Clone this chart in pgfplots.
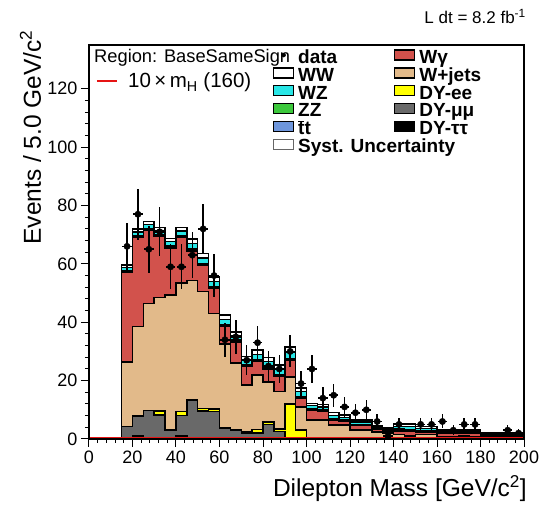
\documentclass[border=0pt]{standalone}
\usepackage{pgfplots}
\pgfplotsset{compat=1.18}
\usepackage{pgfplotstable}
\usepackage{fontspec}
\setmainfont{Liberation Sans}

\definecolor{cWg}{RGB}{210,82,76}
\definecolor{cWj}{RGB}{226,186,138}
\definecolor{cEE}{RGB}{255,255,0}
\definecolor{cMM}{RGB}{105,105,105}
\definecolor{cTT}{RGB}{0,0,0}
\definecolor{cWZ}{RGB}{40,230,230}
\definecolor{cZZ}{RGB}{60,200,60}
\definecolor{ctt}{RGB}{110,150,220}
\definecolor{cSig}{RGB}{230,20,20}

% cumulative stack tops per 5 GeV bin (left edge)
% c1 DY-tautau, c2 +DY-mumu, c3 +DY-ee, c4 +W+jets, c5 +Wgamma, c6 +ttbar, c7 +ZZ, c8 +WZ, c9 +WW
\pgfplotstableread{
x   c1  c2   c3   c4   c5   c6   c7   c8   c9
15  0   4.2  4.2  26.3 57.0 57.3 57.6 58.7 59.6
20  1.2 7.9  7.9  38.5 69.0 69.3 69.6 71.0 72.0
25  0   9.7  9.7  46.5 71.5 71.8 72.1 73.5 74.5
30  0   8.2  9.6  48.5 69.5 69.8 70.1 71.5 72.5
35  0   3.1  3.1  49.3 65.5 65.8 66.1 67.6 68.7
40  1.2 8.0  9.4  53.5 69.2 69.5 69.8 71.3 72.4
45  0   13.4 13.4 54.3 64.5 64.8 65.1 67.0 68.5
50  0   9.6  10.5 50.5 59.5 59.8 60.1 62.0 63.6
55  0   9.5  10.3 43.0 51.5 51.8 52.1 54.0 55.5
60  0   3.7  3.7  32.5 38.5 38.8 39.1 41.0 42.5
65  0   3.1  3.1  26.0 33.3 33.6 33.9 35.4 36.7
70  0   2.0  2.5  18.5 25.0 25.3 25.6 27.0 28.2
75  0   2.0  3.3  22.0 26.5 26.8 27.1 29.0 30.5
80  0   5.0  5.9  19.5 24.0 24.3 24.6 26.6 28.0
85  0   2.5  3.5  16.2 21.5 21.8 22.1 24.0 25.3
90  0   0.5  12.0 21.3 27.0 27.3 27.6 29.8 31.6
95  0   0.3  3.1  11.0 14.0 14.3 14.6 16.2 17.4
100 0   0.1  0.3  6.5  10.0 10.2 10.4 11.4 12.2
105 0   0.1  0.3  6.5  9.5  9.7  9.9  11.0 11.8
110 0   0.1  0.2  4.8  6.5  6.7  6.9  8.0  9.0
115 0   0.1  0.2  4.8  6.2  6.4  6.6  7.4  8.2
120 0   0.1  0.2  3.1  4.6  4.8  5.0  5.8  6.5
125 0   0.1  0.2  3.1  4.6  4.8  5.0  5.8  6.5
130 0   0    0.1  2.4  3.3  3.4  3.5  4.0  4.5
135 0   0    0.1  2.0  2.7  2.8  2.9  3.3  3.7
140 0   0    0.1  1.6  2.6  3.0  3.4  4.3  5.2
145 0   0    0.1  1.0  2.5  2.9  3.3  4.3  5.2
150 0   0    0.1  1.5  2.3  2.6  2.9  3.6  4.2
155 0   0    0.1  1.5  2.3  2.6  2.9  3.6  4.2
160 0   0    0    0.6  1.8  2.0  2.2  2.7  3.1
165 0   0    0    0.6  1.8  2.0  2.2  2.7  3.1
170 0   0    0    1.0  1.8  2.0  2.2  2.7  3.1
175 0   0    0    0.6  1.8  2.0  2.2  2.7  3.1
180 0   0    0    0.3  1.0  1.2  1.4  1.7  2.0
185 0   0    0    0.3  1.0  1.2  1.4  1.7  2.0
190 0   0    0    0.3  1.0  1.2  1.4  1.7  2.0
195 0   0    0    0.3  1.0  1.2  1.4  1.7  2.0
200 0   0    0    0.3  1.0  1.2  1.4  1.7  2.0
}\stack

\pgfplotstableread{
x     y   ex  ey
17.5  66  2.2 8.1
22.5  77  2.2 8.8
27.5  65  2.2 8.1
32.5  71  2.2 8.4
37.5  59  2.2 7.7
42.5  59  2.2 7.7
47.5  63  2.2 7.9
52.5  72  2.2 8.5
57.5  56  2.2 7.5
62.5  34  2.2 5.8
67.5  35  2.2 5.9
72.5  27  2.2 5.2
77.5  33  2.2 5.7
82.5  25  2.2 5.0
87.5  24  2.2 4.9
92.5  30  2.2 5.5
97.5  19  2.2 4.4
102.5 24  2.2 4.9
107.5 14  2.2 3.7
112.5 15  2.2 3.9
117.5 11  2.2 3.3
122.5 9   2.2 3.0
127.5 10  2.2 3.2
132.5 6   2.2 2.4
137.5 1   2.2 1.0
142.5 5   2.2 2.2
152.5 5   2.2 2.2
157.5 5   2.2 2.2
162.5 6   2.2 2.4
167.5 3   2.2 1.7
172.5 5   2.2 2.2
177.5 5   2.2 2.2
192.5 3   2.2 1.7
197.5 2   2.2 1.4
}\data

\pgfplotsset{
  hst/.style={const plot mark left, draw=black, line width=1.5pt, forget plot},
  boxleg/.style={legend image code/.code={\draw[##1, line width=1.2pt] (0pt,-1pt) rectangle (20pt,9pt);}},
}

\begin{document}
\begin{tikzpicture}
\begin{axis}[
  name=ax, at={(0,0)}, anchor=south west,
  scale only axis, width=435pt, height=394pt,
  xmin=0, xmax=200, ymin=0, ymax=135,
  xtick={0,20,...,200}, ytick={0,20,...,120},
  minor x tick num=4, minor y tick num=4,
  tick align=outside, tick pos=left,
  major tick length=8pt, minor tick length=4pt,
  axis line style={line width=1.5pt},
  every tick/.style={line width=1pt, black},
  ticklabel style={font=\fontsize{18}{18}\selectfont},
  /pgf/number format/assume math mode=true,
  axis on top,
  legend columns=6, transpose legend,
  legend cell align=left,
  legend style={draw=none, fill=none, at={(0.423,0.9886)}, anchor=north west,
    inner sep=0pt, outer sep=0pt, row sep=0pt,
    font=\bfseries\fontsize{19}{19}\selectfont,
    nodes={inner sep=0pt, text height=12.5pt, text depth=4pt},
    /tikz/every odd column/.style={column sep=4pt},
    /tikz/every even column/.style={column sep=0pt}},
]
\addplot[hst, fill=white] table[x=x,y=c9]{\stack} \closedcycle;
\addplot[hst, fill=cWZ] table[x=x,y=c8]{\stack} \closedcycle;
\addplot[hst, fill=cZZ] table[x=x,y=c7]{\stack} \closedcycle;
\addplot[hst, fill=ctt] table[x=x,y=c6]{\stack} \closedcycle;
\addplot[hst, fill=cWg] table[x=x,y=c5]{\stack} \closedcycle;
\addplot[hst, fill=cWj] table[x=x,y=c4]{\stack} \closedcycle;
\addplot[hst, fill=cEE] table[x=x,y=c3]{\stack} \closedcycle;
\addplot[hst, fill=cMM] table[x=x,y=c2]{\stack} \closedcycle;
\addplot[hst, fill=cTT] table[x=x,y=c1]{\stack} \closedcycle;
\addplot[const plot, cSig, line width=2pt, forget plot] coordinates {(0,0.5) (200,0.5)};
\addplot[only marks, mark=*, mark size=3.2pt, black, forget plot,
  error bars/.cd, x dir=both, x explicit, y dir=both, y explicit,
  error mark=none, error bar style={line width=1.6pt, black}]
  table[x=x, y=y, x error=ex, y error=ey]{\data};

\addlegendimage{legend image code/.code={\fill[black] (10pt,4pt) circle (2pt);}}
\addlegendentry{\makebox[96pt][l]{data}}
\addlegendimage{boxleg, fill=white, draw=black}
\addlegendentry{\makebox[96pt][l]{WW}}
\addlegendimage{boxleg, fill=cWZ, draw=black}
\addlegendentry{\makebox[96pt][l]{WZ}}
\addlegendimage{boxleg, fill=cZZ, draw=black}
\addlegendentry{\makebox[96pt][l]{ZZ}}
\addlegendimage{boxleg, fill=ctt, draw=black}
\addlegendentry{\makebox[96pt][l]{\rlap{\rule[13pt]{5.5pt}{1.2pt}}tt}}
\addlegendimage{legend image code/.code={\draw[black!60, fill=white, line width=0.8pt] (0pt,-1pt) rectangle (20pt,9pt);}}
\addlegendentry{\makebox[96pt][l]{Syst. Uncertainty}}
\addlegendimage{boxleg, fill=cWg, draw=black}
\addlegendentry{Wγ}
\addlegendimage{boxleg, fill=cWj, draw=black}
\addlegendentry{W+jets}
\addlegendimage{boxleg, fill=cEE, draw=black}
\addlegendentry{DY-ee}
\addlegendimage{boxleg, fill=cMM, draw=black}
\addlegendentry{DY-μμ}
\addlegendimage{boxleg, fill=cTT, draw=black}
\addlegendentry{DY-ττ}
\end{axis}

\node[anchor=base west, inner sep=0pt, font=\fontsize{18.3}{18.3}\selectfont] at (5pt,376pt) {Region: BaseSameSign};
\draw[cSig, line width=2.5pt] (8pt,358pt) -- (28pt,358pt);
\node[anchor=base west, inner sep=0pt, font=\fontsize{20.5}{20.5}\selectfont] at (39pt,351pt) {10\,×\,m\textsubscript{H} (160)};
\node[anchor=base east, inner sep=0pt, font=\fontsize{17}{17}\selectfont] at (437pt,415pt) {L dt = 8.2 fb\textsuperscript{-1}};
\node[anchor=base east, inner sep=0pt, rotate=90, font=\fontsize{24.5}{24.5}\selectfont] at (-48pt,409pt) {Events / 5.0 GeV/c\textsuperscript{2}};
\node[anchor=base east, inner sep=0pt, font=\fontsize{24.5}{24.5}\selectfont] at (438pt,-58pt) {Dilepton Mass [GeV/c\textsuperscript{2}]};

\pgfresetboundingbox
\path (-89pt,-66pt) rectangle (452pt,439pt);
\end{tikzpicture}
\end{document}
